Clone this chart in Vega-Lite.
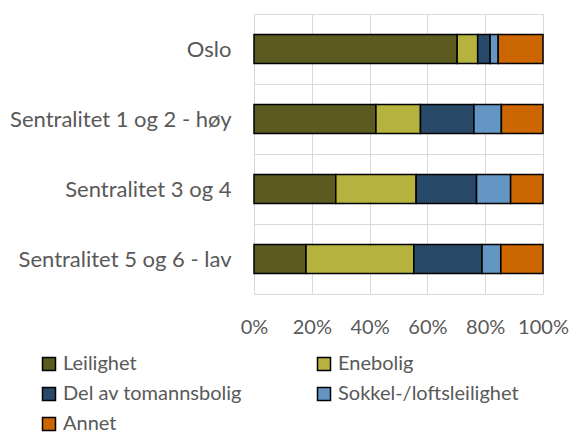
{
  "$schema": "https://vega.github.io/schema/vega-lite/v6.json",
  "autosize": "none",
  "width": 289,
  "height": 280,
  "padding": {"left": 254, "top": 14, "right": 28, "bottom": 143},
  "background": "white",
  "config": {
    "font": "Lato",
    "view": {"stroke": null}
  },
  "data": {
    "values": [
      {"omrade": "Oslo", "type": "Leilighet", "ord": 1, "andel": 70.3},
      {"omrade": "Oslo", "type": "Enebolig", "ord": 2, "andel": 7.1},
      {"omrade": "Oslo", "type": "Del av tomannsbolig", "ord": 3, "andel": 4.3},
      {"omrade": "Oslo", "type": "Sokkel-/loftsleilighet", "ord": 4, "andel": 2.8},
      {"omrade": "Oslo", "type": "Annet", "ord": 5, "andel": 15.5},
      {"omrade": "Sentralitet 1 og 2 - høy", "type": "Leilighet", "ord": 1, "andel": 42.2},
      {"omrade": "Sentralitet 1 og 2 - høy", "type": "Enebolig", "ord": 2, "andel": 15.4},
      {"omrade": "Sentralitet 1 og 2 - høy", "type": "Del av tomannsbolig", "ord": 3, "andel": 18.5},
      {"omrade": "Sentralitet 1 og 2 - høy", "type": "Sokkel-/loftsleilighet", "ord": 4, "andel": 9.5},
      {"omrade": "Sentralitet 1 og 2 - høy", "type": "Annet", "ord": 5, "andel": 14.4},
      {"omrade": "Sentralitet 3 og 4", "type": "Leilighet", "ord": 1, "andel": 28.3},
      {"omrade": "Sentralitet 3 og 4", "type": "Enebolig", "ord": 2, "andel": 27.8},
      {"omrade": "Sentralitet 3 og 4", "type": "Del av tomannsbolig", "ord": 3, "andel": 20.9},
      {"omrade": "Sentralitet 3 og 4", "type": "Sokkel-/loftsleilighet", "ord": 4, "andel": 11.8},
      {"omrade": "Sentralitet 3 og 4", "type": "Annet", "ord": 5, "andel": 11.2},
      {"omrade": "Sentralitet 5 og 6 - lav", "type": "Leilighet", "ord": 1, "andel": 18.0},
      {"omrade": "Sentralitet 5 og 6 - lav", "type": "Enebolig", "ord": 2, "andel": 37.3},
      {"omrade": "Sentralitet 5 og 6 - lav", "type": "Del av tomannsbolig", "ord": 3, "andel": 23.6},
      {"omrade": "Sentralitet 5 og 6 - lav", "type": "Sokkel-/loftsleilighet", "ord": 4, "andel": 6.5},
      {"omrade": "Sentralitet 5 og 6 - lav", "type": "Annet", "ord": 5, "andel": 14.6}
    ]
  },
  "mark": {"type": "bar", "size": 29, "stroke": "black", "strokeWidth": 1.5},
  "encoding": {
    "y": {
      "field": "omrade",
      "type": "nominal",
      "sort": null,
      "scale": {"paddingInner": 0, "paddingOuter": 0},
      "axis": {
        "title": null,
        "domain": false,
        "ticks": false,
        "grid": true,
        "tickBand": "extent",
        "gridColor": "#d9d9d9",
        "gridWidth": 1,
        "labelFontSize": 22,
        "labelColor": "#595959",
        "labelPadding": 23,
        "labelLimit": 260
      }
    },
    "x": {
      "field": "andel",
      "type": "quantitative",
      "stack": "normalize",
      "axis": {
        "title": null,
        "format": ".0%",
        "values": [0, 0.2, 0.4, 0.6, 0.8, 1],
        "domain": false,
        "ticks": false,
        "grid": true,
        "gridColor": "#d9d9d9",
        "gridWidth": 1,
        "labelFontSize": 20,
        "labelColor": "#595959",
        "labelPadding": 23,
        "labelFlush": false
      }
    },
    "color": {
      "field": "type",
      "type": "nominal",
      "scale": {
        "domain": ["Leilighet", "Enebolig", "Del av tomannsbolig", "Sokkel-/loftsleilighet", "Annet"],
        "range": ["#5b5a1f", "#b5b33e", "#284a68", "#6396c3", "#cc6600"]
      },
      "legend": {
        "title": null,
        "orient": "none",
        "direction": "horizontal",
        "legendX": -215,
        "legendY": 340,
        "columns": 2,
        "columnPadding": 72,
        "rowPadding": 10,
        "symbolType": "square",
        "symbolSize": 169,
        "symbolStrokeColor": "black",
        "symbolStrokeWidth": 1.5,
        "symbolOpacity": 1,
        "labelFontSize": 20,
        "labelColor": "#595959",
        "labelOffset": 4,
        "labelLimit": 300
      }
    },
    "order": {"field": "ord", "type": "quantitative"}
  }
}
